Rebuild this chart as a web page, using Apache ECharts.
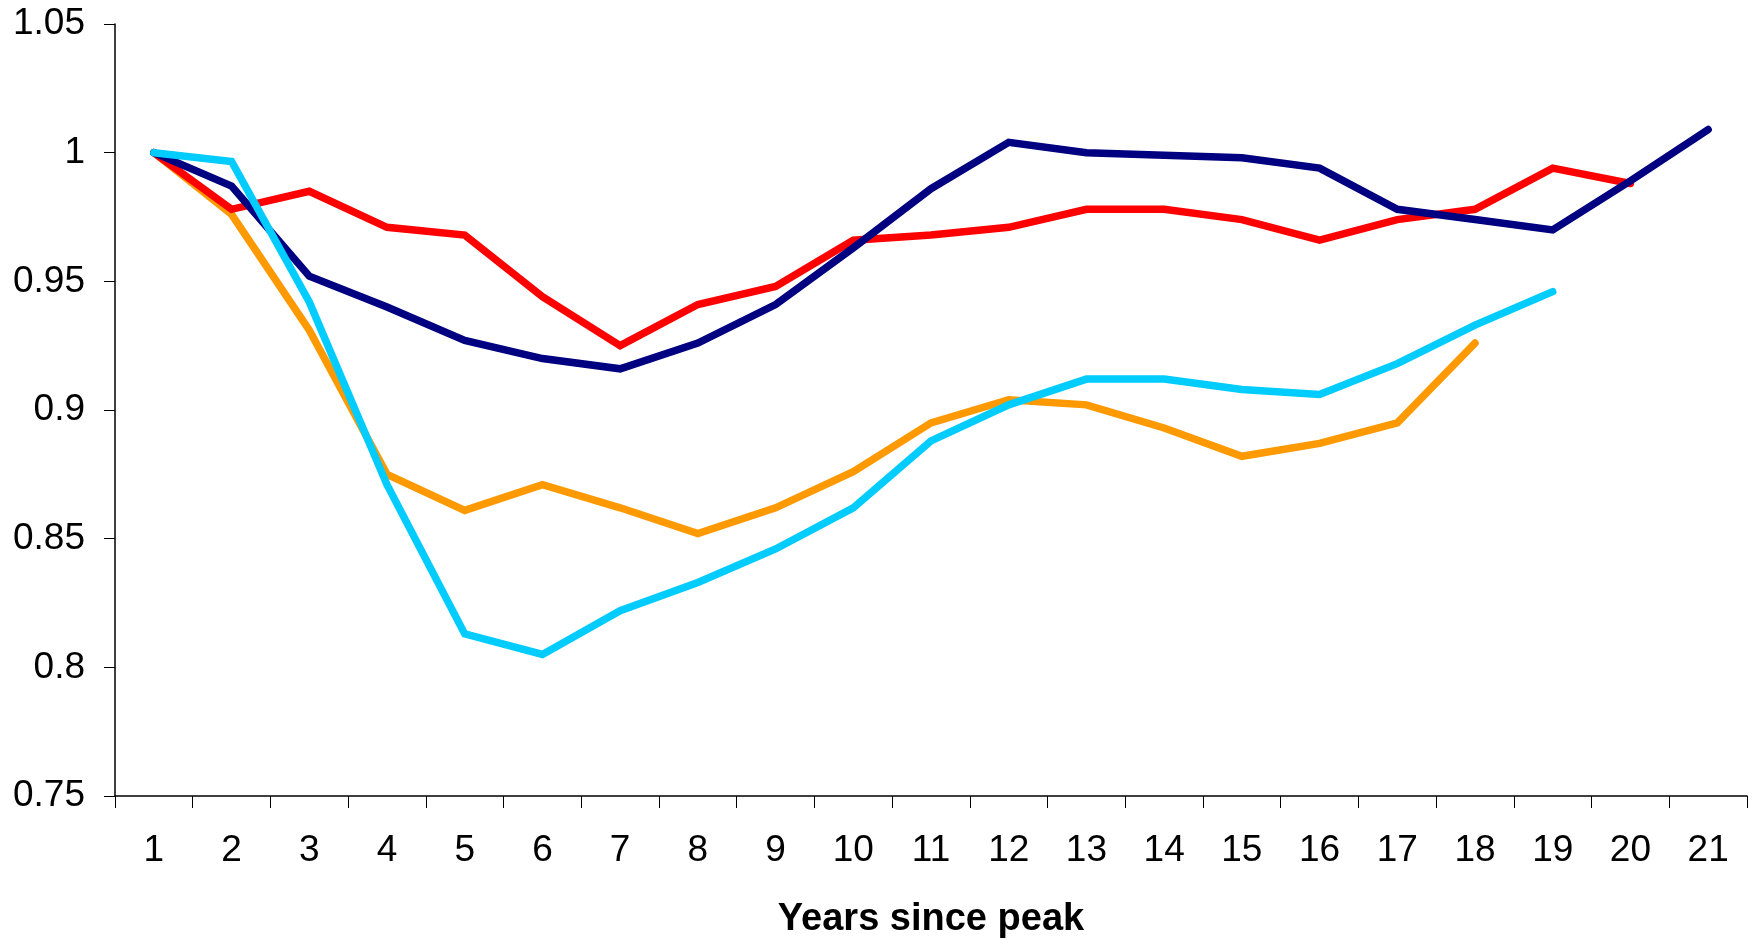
<!DOCTYPE html>
<html>
<head>
<meta charset="utf-8">
<script src="https://cdn.jsdelivr.net/npm/echarts@6/dist/echarts.min.js"></script>
<style>
html,body{margin:0;padding:0;background:#fff;}
#chart{width:1756px;height:944px;}
</style>
</head>
<body>
<div id="chart"></div>
<script>
// Data
var years = ['1','2','3','4','5','6','7','8','9','10','11','12','13','14','15','16','17','18','19','20','21'];
var orangeSeries = [1.000,0.976,0.931,0.875,0.861,0.871,0.862,0.852,0.862,0.876,0.895,0.904,0.902,0.893,0.882,0.887,0.895,0.926];
var redSeries = [1.000,0.978,0.985,0.971,0.968,0.944,0.925,0.941,0.948,0.966,0.968,0.971,0.978,0.978,0.974,0.966,0.974,0.978,0.994,0.988];
var navySeries = [1.000,0.987,0.952,0.940,0.927,0.920,0.916,0.926,0.941,0.963,0.986,1.004,1.000,0.999,0.998,0.994,0.978,0.974,0.970,0.989,1.009];
var cyanSeries = [1.000,0.9966,0.942,0.871,0.813,0.805,0.822,0.833,0.846,0.862,0.888,0.902,0.912,0.912,0.908,0.906,0.918,0.933,0.946];
var xTitle = 'Years since peak';

var chart = echarts.init(document.getElementById('chart'), null, {renderer:'canvas'});
function mk(data, color){
  return {
    type:'line', data:data, showSymbol:false, symbol:'none', animation:false,
    lineStyle:{color:color, width:7.5, cap:'round', join:'miter'},
    itemStyle:{color:color}
  };
}
chart.setOption({
  backgroundColor:'#ffffff',
  animation:false,
  grid:{left:115, right:9, top:24, bottom:146, containLabel:false},
  xAxis:{
    type:'category', data:years, boundaryGap:true,
    name:xTitle, nameLocation:'middle', nameGap:105,
    nameTextStyle:{fontFamily:'Liberation Sans, Arial', fontWeight:'bold', fontSize:38, color:'#000'},
    axisLine:{lineStyle:{color:'#000', width:1.5}},
    axisTick:{show:true, length:12, lineStyle:{color:'#000', width:1}},
    axisLabel:{fontFamily:'Liberation Sans, Arial', fontSize:37, color:'#000', margin:36, interval:0},
    splitLine:{show:false}
  },
  yAxis:{
    type:'value', min:0.75, max:1.05, interval:0.05,
    axisLine:{show:true, lineStyle:{color:'#000', width:1.5}},
    axisTick:{show:true, length:11, lineStyle:{color:'#000', width:1}},
    axisLabel:{fontFamily:'Liberation Sans, Arial', fontSize:37, color:'#000', margin:30,
      formatter:function(v){return String(Number(v.toFixed(2)));}},
    splitLine:{show:false}
  },
  series:[
    mk(orangeSeries,'#FF9900'),
    mk(redSeries,'#FF0000'),
    mk(navySeries,'#000080'),
    mk(cyanSeries,'#00CCFF')
  ]
});
</script>
</body>
</html>
